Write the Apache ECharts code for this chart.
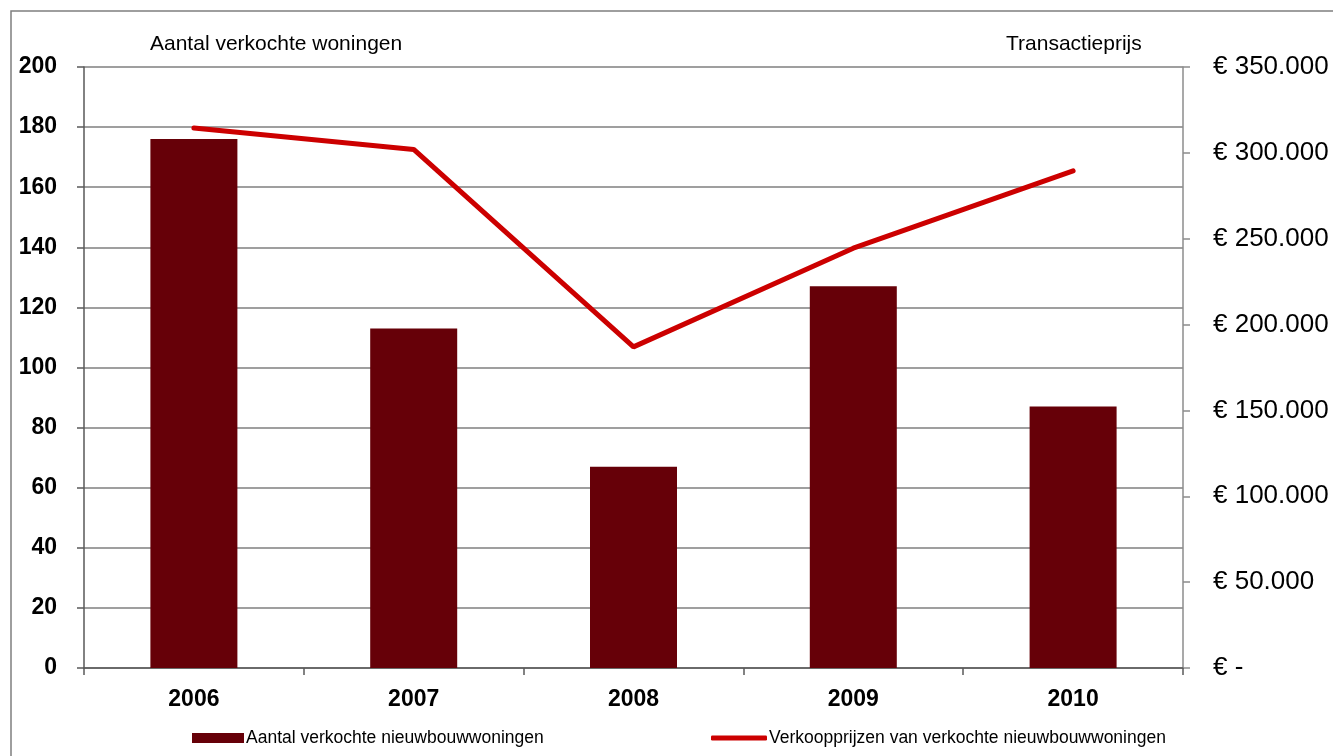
<!DOCTYPE html>
<html><head><meta charset="utf-8">
<script src="https://cdn.jsdelivr.net/npm/echarts@6/dist/echarts.min.js"></script>
<style>html,body{margin:0;padding:0;background:#fff}#c{width:1333px;height:756px}</style>
</head><body><div id="c"></div>
<script>
const categories = ['2006','2007','2008','2009','2010'];
const soldCounts = [176, 113, 67, 127, 87];
const salePrices = [314500, 302000, 187000, 244500, 289500];
const leftTicks = {min: 0, max: 200, interval: 20};
const rightTicks = {min: 0, max: 350000, interval: 50000};
const barName = 'Aantal verkochte nieuwbouwwoningen';
const lineName = 'Verkoopprijzen van verkochte nieuwbouwwoningen';

const font = '"Liberation Sans", Arial, sans-serif';
const chart = echarts.init(document.getElementById('c'));
function euro(v){
  if (v === 0) return '€ -';
  return '€ ' + String(v).replace(/\B(?=(\d{3})+(?!\d))/g, '.');
}
chart.setOption({
  animation: false,
  textStyle: {fontFamily: font},
  graphic: [{type: 'rect', shape: {x: 11, y: 11, width: 1340, height: 760}, style: {fill: 'none', stroke: '#7f7f7f', lineWidth: 1.5}, z: -1}],
  title: [
    {text: 'Aantal verkochte woningen', left: 145, top: 29, textStyle: {fontFamily: font, fontSize: 21, fontWeight: 'normal', color: '#000'}},
    {text: 'Transactieprijs', left: 1001, top: 29, textStyle: {fontFamily: font, fontSize: 21, fontWeight: 'normal', color: '#000'}}
  ],
  legend: [
    {data: [{name: barName, icon: 'rect'}], left: 187, top: 724, itemWidth: 52, itemHeight: 10, textStyle: {fontFamily: font, fontSize: 17.5, color: '#000', padding: [0,0,0,-3]}},
    {data: [{name: lineName, icon: 'roundRect'}], left: 706, top: 724, itemWidth: 56, itemHeight: 5, textStyle: {fontFamily: font, fontSize: 17.5, color: '#000', padding: [0,0,0,-3]}}
  ],
  grid: {left: 84, right: 150, top: 67, bottom: 88},
  xAxis: {
    type: 'category', data: categories, boundaryGap: true,
    axisLine: {lineStyle: {color: '#595959', width: 1.5}},
    axisTick: {show: true, length: 7, lineStyle: {color: '#595959', width: 1.5}},
    axisLabel: {color: '#000', fontSize: 23, fontWeight: 'bold', margin: 20, fontFamily: font}
  },
  yAxis: [
    {type: 'value', min: leftTicks.min, max: leftTicks.max, interval: leftTicks.interval, position: 'left',
     axisLine: {show: true, lineStyle: {color: '#595959', width: 1.5}},
     axisTick: {show: true, length: 7, lineStyle: {color: '#595959', width: 1.5}},
     splitLine: {lineStyle: {color: '#7f7f7f', width: 1.5}},
     axisLabel: {color: '#000', fontSize: 23, fontWeight: 'bold', margin: 27, fontFamily: font}},
    {type: 'value', min: rightTicks.min, max: rightTicks.max, interval: rightTicks.interval, position: 'right',
     axisLine: {show: true, lineStyle: {color: '#8c8c8c', width: 1.5}},
     axisTick: {show: true, length: 7, lineStyle: {color: '#8c8c8c', width: 1.5}},
     splitLine: {show: false},
     axisLabel: {color: '#000', fontSize: 26, margin: 30, fontFamily: font, formatter: euro}}
  ],
  series: [
    {name: barName, type: 'bar', data: soldCounts, barWidth: 87, yAxisIndex: 0, itemStyle: {color: '#660008'}},
    {name: lineName, type: 'line', data: salePrices, yAxisIndex: 1, symbol: 'none', lineStyle: {color: '#cc0000', width: 5, cap: 'round'}, itemStyle: {color: '#cc0000'}, z: 5}
  ]
});
</script></body></html>
